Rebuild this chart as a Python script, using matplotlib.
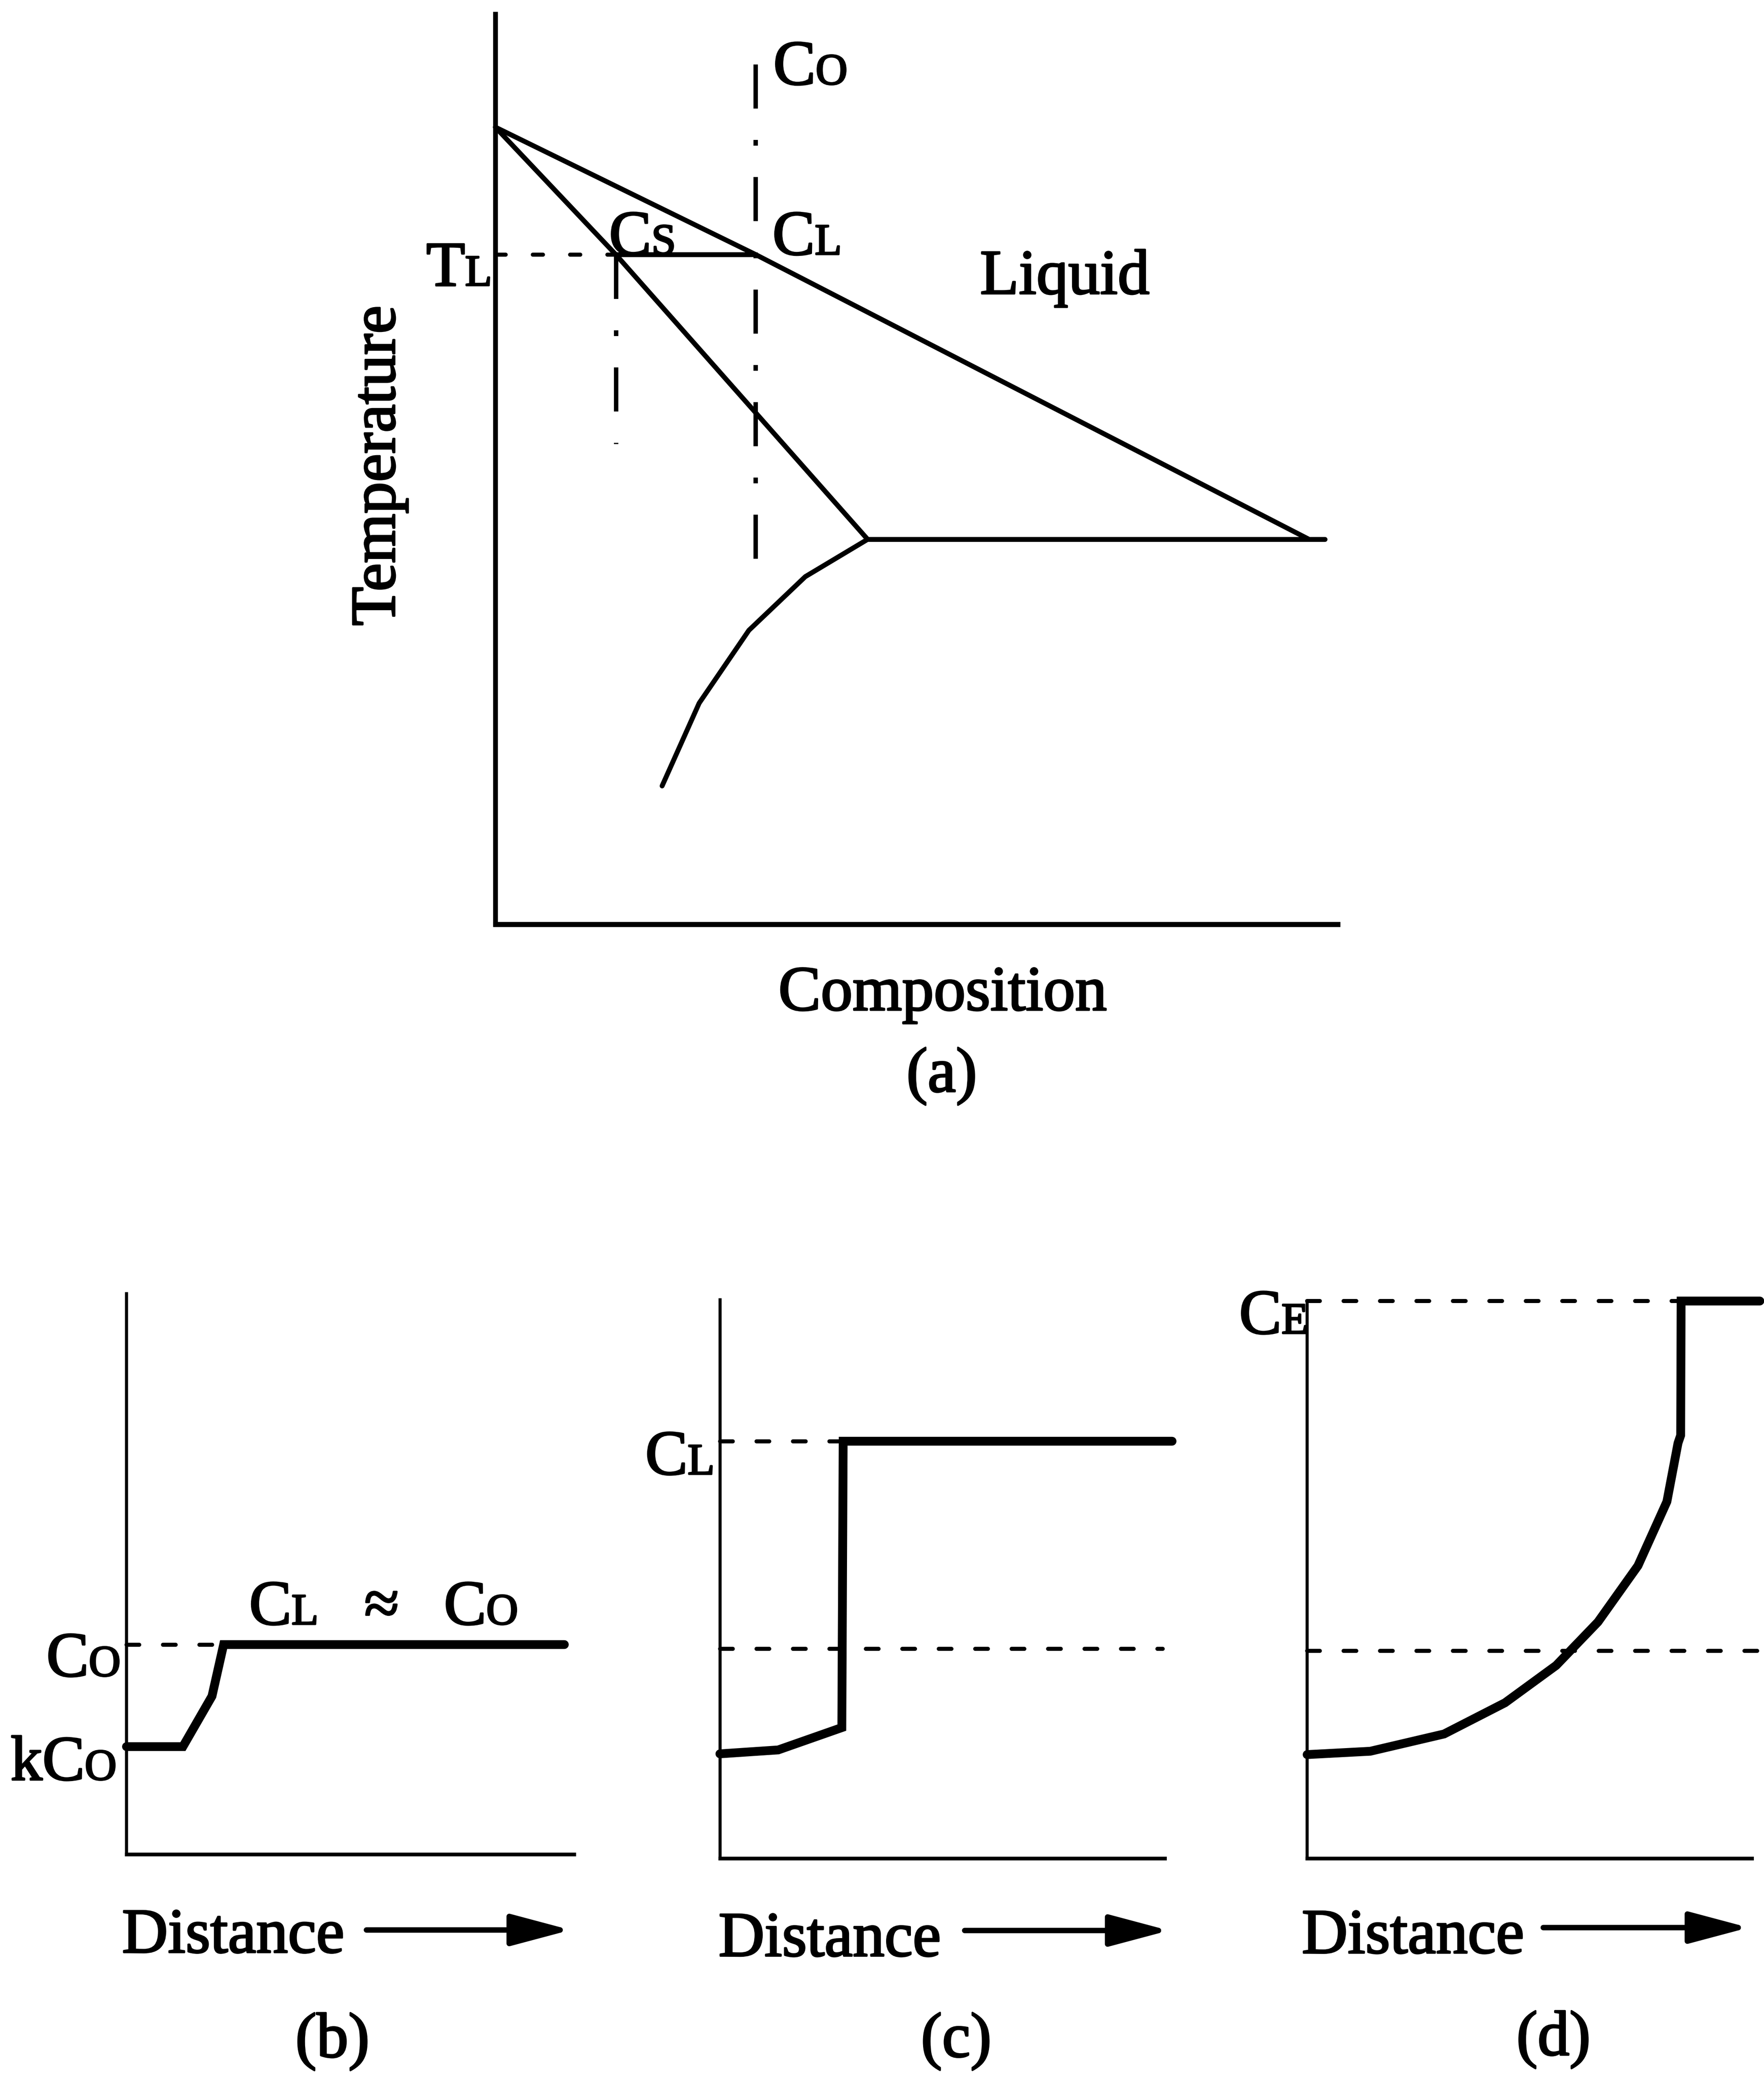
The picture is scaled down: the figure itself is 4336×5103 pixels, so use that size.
import matplotlib.pyplot as plt
import matplotlib.patheffects as pe

plt.rcParams['font.family'] = ['Liberation Serif', 'DejaVu Serif']
plt.rcParams['lines.scale_dashes'] = False

# ---- panel (a): phase diagram, composition vs temperature (0-100 units)
liquidus_x = [0, 30.9, 96.6]
liquidus_t = [87.6, 73.6, 42.3]
solidus_x = [0, 14.3, 44.2]
solidus_t = [87.6, 73.6, 42.3]
eutectic_x = [44.2, 98.5]
eutectic_t = [42.3, 42.3]
solvus_x = [44.2, 36.8, 30.1, 24.2, 19.8]
solvus_t = [42.3, 38.2, 32.3, 24.3, 15.2]
c0_comp = 30.9
cs_comp = 14.3
tl_temp = 73.6
c0_span = [94.5, 37.7]
cs_span = [73.6, 52.8]

# ---- panels (b), (c), (d): concentration vs distance
b_x = [0, 12.6, 19.1, 21.7, 97.8]
b_y = [19.2, 19.2, 28.2, 37.4, 37.4]
b_c0 = 37.4

c_x = [0, 13.1, 27.4, 27.7, 101.6]
c_y = [18.7, 19.4, 23.4, 74.7, 74.7]
c_cl = 74.7
c_c0 = 37.5

d_x = [0, 14.2, 30.8, 44.5, 56.0, 65.4, 74.4, 80.9, 83.4, 84.0, 84.1, 101.8]
d_y = [18.6, 19.2, 22.3, 27.9, 34.6, 42.4, 52.5, 64.0, 74.5, 75.9, 100, 100]
d_ce = 100
d_c0 = 37.2

FS = 37.5
FS_SMALL = 26
DROP = 0.217 * (FS - FS_SMALL)
DOTS = (0, (7.5, 14))
DASHDOT = (0, (26, 18.5, 3.4, 18.5))
# the scanned lettering is a bit heavier than the regular face
INK = [pe.withStroke(linewidth=1.0, foreground='black')]


def sub_text(ax, x, y, big, small, ha='left'):
    # big letter followed by a small capital sitting on the same baseline
    if ha == 'left':
        t = ax.text(x, y, big, ha='left', va='baseline', fontsize=FS,
                    path_effects=INK)
        ax.annotate(small, xy=(1, 0), xycoords=t, xytext=(0, DROP),
                    textcoords='offset points', ha='left', va='bottom',
                    fontsize=FS_SMALL, path_effects=INK)
    else:
        s = ax.text(x, y, small, ha='right', va='baseline', fontsize=FS_SMALL,
                    path_effects=INK)
        ax.annotate(big, xy=(0, 0), xycoords=s, xytext=(0, -DROP),
                    textcoords='offset points', ha='right', va='bottom',
                    fontsize=FS, path_effects=INK)


def bare_axes(rect, lw_left, lw_bottom):
    ax = fig.add_axes(rect)
    ax.set_xlim(0, 100)
    ax.set_ylim(0, 100)
    ax.set_xticks([])
    ax.set_yticks([])
    ax.spines['top'].set_visible(False)
    ax.spines['right'].set_visible(False)
    ax.spines['left'].set_linewidth(lw_left)
    ax.spines['bottom'].set_linewidth(lw_bottom)
    ax.patch.set_alpha(0)
    return ax


def distance_label(ax, arrow_x0, arrow_x1, arrow_y, text_x, text_y, tag_x, tag_y, tag):
    ax.text(text_x, text_y, 'Distance', transform=ax.transAxes, ha='left',
            va='baseline', fontsize=FS, path_effects=INK)
    ax.annotate('', xy=(arrow_x1, arrow_y), xytext=(arrow_x0, arrow_y),
                xycoords='axes fraction', textcoords='axes fraction',
                arrowprops=dict(arrowstyle='-|>,head_length=3.0,head_width=0.8',
                                mutation_scale=10, lw=3.2, color='black',
                                shrinkA=0, shrinkB=0))
    ax.text(tag_x, tag_y, tag, transform=ax.transAxes, ha='center',
            va='center', fontsize=FS, path_effects=INK)


fig = plt.figure(figsize=(4336 / 300, 5103 / 300), dpi=300)

# ---------------- (a)
ax = bare_axes([0.2808, 0.5548, 0.4775, 0.4383], 2.8, 3.0)
kw = dict(color='black', lw=2.9, solid_capstyle='round', clip_on=False)
ax.plot(liquidus_x, liquidus_t, **kw)
ax.plot(solidus_x, solidus_t, **kw)
ax.plot(eutectic_x, eutectic_t, **kw)
ax.plot(solvus_x, solvus_t, **kw)
ax.plot([cs_comp, c0_comp], [tl_temp, tl_temp], **kw)
ax.plot([0, cs_comp], [tl_temp, tl_temp], color='black', lw=2.4,
        ls=(0, (6, 16)), dash_capstyle='round')
ax.plot([c0_comp, c0_comp], c0_span, color='black', lw=2.6, ls=DASHDOT,
        clip_on=False)
ax.plot([cs_comp, cs_comp], cs_span, color='black', lw=2.6, ls=DASHDOT)

sub_text(ax, -0.4, 70.2, 'T', 'L', ha='right')
sub_text(ax, 33.0, 92.3, 'C', 'O')
sub_text(ax, 32.9, 73.6, 'C', 'L')
sub_text(ax, 13.5, 73.6, 'C', 'S')
ax.text(67.6, 69.3, 'Liquid', ha='center', va='baseline', fontsize=FS,
        path_effects=INK)
ax.text(-0.138, 0.504, 'Temperature', transform=ax.transAxes, rotation=90,
        ha='center', va='center', fontsize=FS, path_effects=INK)
ax.text(0.531, -0.0943, 'Composition', transform=ax.transAxes, ha='center',
        va='baseline', fontsize=FS, path_effects=INK)
ax.text(0.530, -0.167, '(a)', transform=ax.transAxes, ha='center',
        va='center', fontsize=FS, path_effects=INK)

prof = dict(color='black', lw=5.2, solid_capstyle='round',
            solid_joinstyle='miter', clip_on=False)
dots = dict(color='black', lw=2.4, ls=DOTS, dash_capstyle='round',
            clip_on=False)

# ---------------- (b)
ax = bare_axes([0.0717, 0.1068, 0.2538, 0.2701], 1.8, 2.2)
ax.plot([0, b_x[3]], [b_c0, b_c0], **dots)
ax.plot(b_x, b_y, **prof)
sub_text(ax, -1.3, 31.8, 'C', 'O', ha='right')
sub_text(ax, -2.2, 13.3, 'kC', 'O', ha='right')
sub_text(ax, 27.4, 41.0, 'C', 'L')
ax.text(57.0, 41.0, '\u2248', ha='center', va='baseline', fontsize=FS,
        path_effects=INK)
sub_text(ax, 70.9, 41.0, 'C', 'O')
distance_label(ax, 0.536, 0.992, -0.135, -0.010, -0.175, 0.46, -0.334, '(b)')

# ---------------- (c)
ax = bare_axes([0.4081, 0.1049, 0.2523, 0.2689], 1.8, 2.2)
ax.plot([0, c_x[3]], [c_cl, c_cl], **dots)
ax.plot([0, 99.5], [c_c0, c_c0], **dots)
ax.plot(c_x, c_y, **prof)
sub_text(ax, -1.2, 68.8, 'C', 'L', ha='right')
distance_label(ax, 0.550, 1.009, -0.1295, -0.003, -0.175, 0.531, -0.328, '(c)')

# ---------------- (d)
ax = bare_axes([0.7410, 0.1049, 0.2521, 0.2684], 1.8, 2.2)
ax.plot([0, d_x[-3]], [d_ce, d_ce], **dots)
ax.plot([0, 101.4], [d_c0, d_c0], **dots)
ax.plot(d_x, d_y, **prof)
sub_text(ax, 0.3, 94.2, 'C', 'E', ha='right')
distance_label(ax, 0.531, 0.993, -0.1245, -0.012, -0.170, 0.554, -0.3255, '(d)')

fig.savefig('out.png', dpi=300)
